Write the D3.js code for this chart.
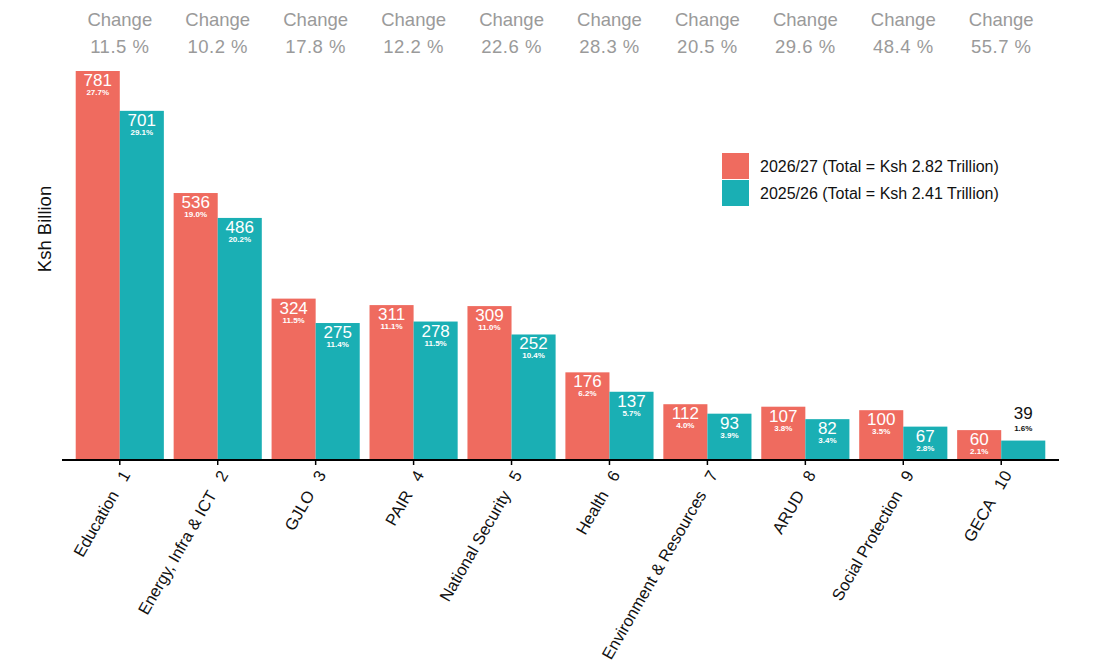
<!DOCTYPE html>
<html><head><meta charset="utf-8">
<script src="https://cdn.jsdelivr.net/npm/d3@7"></script>
<style>body{margin:0;background:#fff}svg{font-family:"Liberation Sans",Arial,sans-serif}</style>
</head><body>
<svg id="c" width="1105" height="671"></svg>
<script>
const categories = ["Education","Energy, Infra & ICT","GJLO","PAIR","National Security","Health","Environment & Resources","ARUD","Social Protection","GECA"];
const values2627 = [781,536,324,311,309,176,112,107,100,60];
const values2526 = [701,486,275,278,252,137,93,82,67,39];
const share2627 = ["27.7%","19.0%","11.5%","11.1%","11.0%","6.2%","4.0%","3.8%","3.5%","2.1%"];
const share2526 = ["29.1%","20.2%","11.4%","11.5%","10.4%","5.7%","3.9%","3.4%","2.8%","1.6%"];
const changes = ["11.5 %","10.2 %","17.8 %","12.2 %","22.6 %","28.3 %","20.5 %","29.6 %","48.4 %","55.7 %"];
const seriesNames = ["2026/27 (Total = Ksh 2.82 Trillion)","2025/26 (Total = Ksh 2.41 Trillion)"];
const colors = ["#EF6B5F","#1AAFB4"];

const svg = d3.select("#c");
const x0 = d3.scaleBand().domain(d3.range(categories.length)).range([62,1059]).paddingInner(0.1).paddingOuter(0.14);
const x1 = d3.scaleBand().domain([0,1]).range([0,x0.bandwidth()]);
const y = d3.scaleLinear().domain([0,781]).range([460,71]);

const data = categories.map((c,i)=>({i, c, vals:[
  {s:0,v:values2627[i],p:share2627[i]},
  {s:1,v:values2526[i],p:share2526[i]}]}));
const outside = d => (y(0)-y(d.v)) < 25;

const g = svg.selectAll("g.grp").data(data).join("g").attr("class","grp")
  .attr("transform",d=>`translate(${x0(d.i)},0)`);

g.selectAll("rect").data(d=>d.vals).join("rect")
  .attr("x",d=>x1(d.s)).attr("width",x1.bandwidth())
  .attr("y",d=>y(d.v)).attr("height",d=>y(0)-y(d.v))
  .attr("fill",d=>colors[d.s]);

g.selectAll("text.val").data(d=>d.vals).join("text").attr("class","val")
  .attr("x",d=>x1(d.s)+x1.bandwidth()/2)
  .attr("y",d=> outside(d) ? y(d.v)-22 : y(d.v)+15)
  .attr("text-anchor","middle").attr("font-size",17)
  .attr("fill",d=> outside(d) ? "#111" : "#fff")
  .text(d=>d.v);
g.selectAll("text.pct").data(d=>d.vals).join("text").attr("class","pct")
  .attr("x",d=>x1(d.s)+x1.bandwidth()/2)
  .attr("y",d=> outside(d) ? y(d.v)-10 : y(d.v)+24)
  .attr("text-anchor","middle").attr("font-size",8).attr("font-weight","bold")
  .attr("fill",d=> outside(d) ? "#111" : "#fff")
  .text(d=>d.p);

const cg = svg.selectAll("g.chg").data(changes).join("g").attr("class","chg")
  .attr("transform",(d,i)=>`translate(${x0(i)+x0.bandwidth()/2},0)`);
cg.append("text").attr("y",26).attr("text-anchor","middle").attr("font-size",18.5).attr("fill","#9a9a9a").text("Change");
cg.append("text").attr("y",53).attr("text-anchor","middle").attr("font-size",18.5).attr("fill","#9a9a9a")
  .attr("letter-spacing","0.5").text(d=>d);

const xAxis = d3.axisBottom(x0).tickSize(5).tickSizeOuter(0)
  .tickFormat(i=>categories[i]+"\u00a0\u00a0\u00a0"+(i+1));
const ax = svg.append("g").attr("transform",`translate(0,${y(0)})`).call(xAxis);
ax.select(".domain").attr("stroke","#000").attr("stroke-width",2).attr("d","M62,0H1059");
ax.selectAll(".tick line").attr("stroke","#000").attr("stroke-width",1.5);
ax.selectAll(".tick text").attr("font-size",16.5).attr("fill","#111")
  .attr("font-family","'Liberation Sans',Arial,sans-serif")
  .attr("text-anchor","end").attr("dy","0.35em")
  .attr("transform","translate(6,12) rotate(-60)").attr("x",0).attr("y",0);

svg.append("text").attr("transform","translate(51,229) rotate(-90)")
  .attr("text-anchor","middle").attr("font-size",18.5).attr("fill","#111").text("Ksh Billion");

const lg = svg.append("g").attr("transform","translate(722,153)");
lg.selectAll("rect").data(seriesNames).join("rect")
  .attr("x",0).attr("y",(d,i)=>i*27).attr("width",27).attr("height",26).attr("fill",(d,i)=>colors[i]);
lg.selectAll("text").data(seriesNames).join("text")
  .attr("x",38).attr("y",(d,i)=>i*27+19).attr("font-size",16).attr("fill","#111").text(d=>d);
</script>
</body></html>
